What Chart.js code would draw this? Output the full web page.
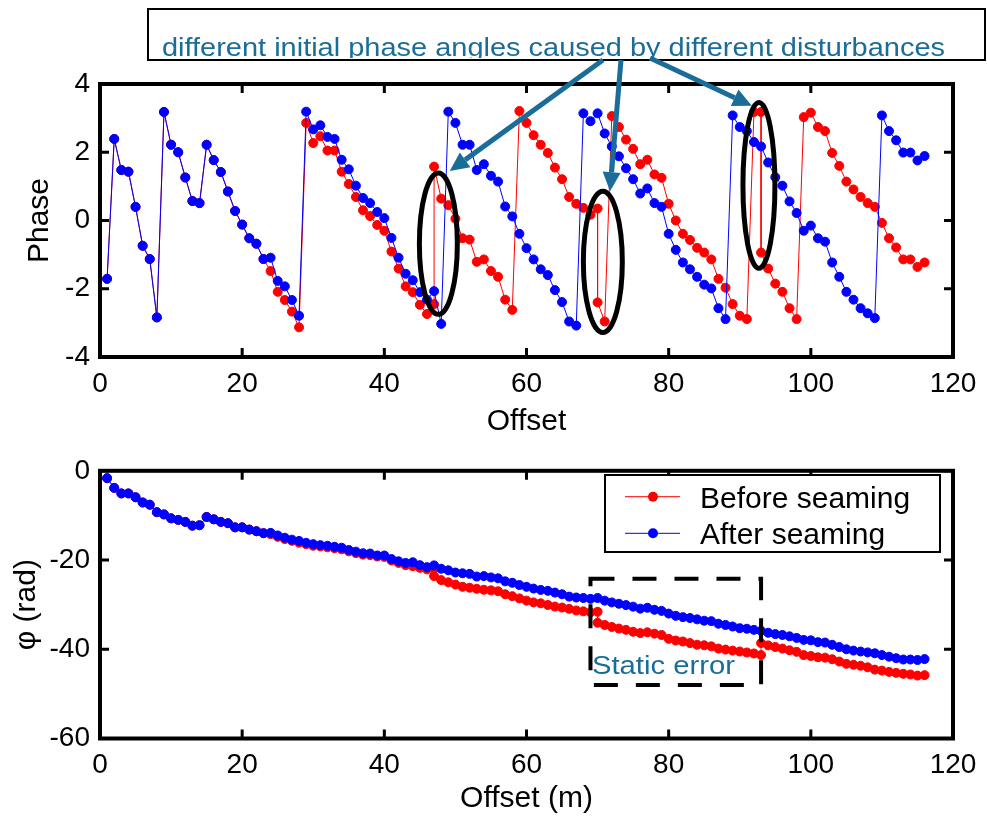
<!DOCTYPE html>
<html>
<head>
<meta charset="utf-8">
<script src="https://cdn.jsdelivr.net/npm/chart.js@4.4.0/dist/chart.umd.min.js"></script>
<style>
  body { margin: 0; background: #fff; }
  #wrap { position: relative; width: 987px; height: 824px; }
  canvas { position: absolute; left: 0; }
</style>
</head>
<body>
<div id="wrap">
  <canvas id="phaseChart" width="987" height="444" style="top:0px"></canvas>
  <canvas id="unwrapChart" width="987" height="380" style="top:444px"></canvas>
</div>
<script>
// offsets (x). "before" has a repeated offset at each seam (47, 70, 93)
var offsetsAfter = [1,2,3,4,5,6,7,8,9,10,11,12,13,14,15,16,17,18,19,20,21,22,23,24,25,26,27,28,29,30,
  31,32,33,34,35,36,37,38,39,40,41,42,43,44,45,46,47,48,49,50,51,52,53,54,55,56,57,58,59,60,
  61,62,63,64,65,66,67,68,69,70,71,72,73,74,75,76,77,78,79,80,81,82,83,84,85,86,87,88,89,90,
  91,92,93,94,95,96,97,98,99,100,101,102,103,104,105,106,107,108,109,110,111,112,113,114,115,116];
var offsetsBefore = [1,2,3,4,5,6,7,8,9,10,11,12,13,14,15,16,17,18,19,20,21,22,23,24,25,26,27,28,29,30,
  31,32,33,34,35,36,37,38,39,40,41,42,43,44,45,46,47,47,48,49,50,51,52,53,54,55,56,57,58,59,60,
  61,62,63,64,65,66,67,68,69,70,70,71,72,73,74,75,76,77,78,79,80,81,82,83,84,85,86,87,88,89,90,
  91,92,93,93,94,95,96,97,98,99,100,101,102,103,104,105,106,107,108,109,110,111,112,113,114,115,116];

// top panel: wrapped phase
var phaseAfter = [-1.71,2.39,1.48,1.43,0.40,-0.74,-1.13,-2.84,3.18,2.22,
  2.00,1.26,0.57,0.51,2.22,1.77,1.42,0.85,0.28,-0.12,
  -0.52,-0.68,-1.13,-1.09,-1.77,-1.93,-2.33,-2.79,3.19,2.67,
  2.79,2.45,2.39,1.78,1.50,1.02,0.66,0.51,0.25,0.07,
  -0.51,-1.09,-1.56,-1.75,-2.10,-2.32,-2.07,-3.03,3.19,2.86,
  2.22,2.22,1.48,1.65,1.31,1.14,0.41,0.12,-0.39,-0.81,
  -1.14,-1.43,-1.60,-2.04,-2.39,-2.96,-3.08,3.14,2.91,3.14,
  2.55,2.17,1.88,1.53,1.21,0.79,0.94,0.51,0.40,-0.39,
  -0.86,-1.23,-1.43,-1.65,-1.88,-1.99,-2.57,-2.89,3.08,2.74,
  2.62,2.30,2.17,1.70,1.27,1.02,0.56,0.22,-0.30,-0.15,
  -0.52,-0.62,-1.23,-1.65,-2.09,-2.32,-2.57,-2.72,-2.86,3.08,
  2.62,2.35,1.99,1.99,1.76,1.89];
var phaseBefore = [-1.71,2.39,1.48,1.43,0.40,-0.74,-1.13,-2.84,3.18,2.22,
  2.00,1.26,0.57,0.51,2.22,1.77,1.42,0.85,0.28,-0.12,-0.52,-0.68,-1.13,
  -1.48,-2.09,-2.33,-2.67,-3.13,2.86,2.27,2.47,2.05,2.05,1.43,1.07,0.69,0.30,0.13,-0.13,-0.30,-0.91,-1.41,-1.93,-2.10,-2.47,-2.74,
  -2.45,1.58,
  0.64,0.45,0.05,-0.52,-0.56,-1.21,-1.14,-1.48,-1.65,-2.32,-2.62,3.21,2.86,2.50,2.22,1.98,1.55,1.21,0.69,0.49,0.37,0.17,0.35,
  -2.40,
  -2.96,3.06,2.74,2.37,2.10,1.65,1.78,1.35,1.25,0.49,0.00,-0.39,-0.57,-0.80,-0.94,-1.14,-1.71,-1.97,-2.45,-2.79,-2.89,3.18,3.18,
  -0.94,
  -1.41,-1.85,-2.09,-2.57,-2.89,3.03,3.16,2.74,2.62,1.98,1.60,1.14,0.91,0.69,0.51,0.40,-0.07,-0.52,-0.79,-1.14,-1.14,-1.36,-1.23];

// bottom panel: unwrapped phase (rad)
var unwrapAfter = [-1.65,-3.83,-5.07,-5.07,-5.93,-7.10,-7.60,-9.27,-9.77,-10.65,
  -11.00,-11.45,-12.30,-12.20,-10.35,-10.87,-11.45,-11.74,-12.67,-12.67,
  -13.18,-13.54,-13.98,-13.91,-14.49,-15.00,-15.43,-15.72,-16.15,-16.44,
  -16.66,-16.81,-17.03,-17.24,-17.75,-18.12,-18.48,-18.55,-18.98,-18.98,
  -19.78,-20.28,-20.65,-20.50,-21.15,-21.59,-21.20,-21.95,-22.30,-22.80,
  -22.97,-23.10,-23.70,-23.60,-23.90,-24.10,-24.78,-25.10,-25.60,-26.00,
  -26.40,-26.70,-26.90,-27.30,-27.67,-28.20,-28.40,-28.50,-28.70,-28.50,
  -29.10,-29.50,-29.80,-30.10,-30.45,-30.90,-30.70,-31.15,-31.40,-32.00,
  -32.50,-32.80,-33.00,-33.30,-33.60,-33.70,-34.27,-34.56,-34.90,-35.28,
  -35.40,-35.65,-35.87,-36.30,-36.60,-36.80,-37.10,-37.46,-37.90,-38.00,
  -38.40,-38.50,-39.00,-39.50,-40.00,-40.30,-40.50,-40.70,-40.90,-41.30,
  -41.66,-42.00,-42.30,-42.30,-42.40,-42.20];
var unwrapBefore = [-1.65,-3.83,-5.07,-5.07,-5.93,-7.10,-7.60,-9.27,-9.77,-10.65,
  -11.00,-11.45,-12.30,-12.20,-10.35,-10.87,-11.45,-11.74,-12.67,-12.67,-13.18,-13.54,-13.98,
  -14.20,-14.80,-15.30,-15.70,-16.10,-16.45,-16.80,-16.95,-17.15,-17.35,-17.60,-18.05,-18.45,-18.80,-18.90,-19.20,-19.30,-20.10,-20.65,-21.15,-21.37,-21.74,-22.10,
  -21.80,-23.60,
  -24.50,-25.00,-25.50,-26.00,-26.20,-26.45,-26.66,-26.80,-27.00,-27.67,-28.10,-28.60,-29.10,-29.50,-29.70,-30.07,-30.43,-30.65,-30.94,-31.30,-31.50,-31.70,-31.60,
  -34.05,
  -34.55,-35.00,-35.36,-35.65,-36.08,-36.37,-36.20,-36.50,-36.80,-37.67,-38.04,-38.26,-38.62,-38.98,-39.10,-39.35,-39.85,-40.07,-40.30,-40.50,-40.72,-40.94,-41.30,
  -38.62,
  -39.13,-39.49,-39.85,-40.22,-40.58,-41.30,-41.50,-41.80,-41.88,-42.24,-42.75,-43.26,-43.48,-43.70,-44.05,-44.56,-44.78,-45.07,-45.29,-45.50,-45.65,-45.90,-45.80];

var xTicks = [0, 20, 40, 60, 80, 100, 120];
var seriesNames = ['Before seaming', 'After seaming'];

var FONT = "'Liberation Sans', Arial, Helvetica, sans-serif";
var TEAL = '#1a6d98';
var RED = '#ff0000';
var BLUE = '#0000ff';

function xy(xs, ys) {
  return xs.map(function(x, i) { return { x: x, y: ys[i] }; });
}

function dataset(label, xs, ys, color, order) {
  return {
    label: label,
    data: xy(xs, ys),
    borderColor: color,
    backgroundColor: color,
    borderWidth: 1,
    pointRadius: 4.5,
    pointBorderWidth: 1,
    pointHoverRadius: 4.5,
    tension: 0,
    order: order
  };
}

function scales(yMin, yMax, yStep, xTitle, yTitle, xTitlePad, yTitlePad, xHeight) {
  return {
    x: {
      type: 'linear', min: xTicks[0], max: xTicks[xTicks.length - 1],
      afterBuildTicks: function(s) { s.ticks = xTicks.map(function(v) { return { value: v }; }); },
      ticks: { color: '#000', font: { family: FONT, size: 28 }, padding: 10, maxRotation: 0 },
      grid: { display: false, drawTicks: false },
      border: { display: false },
      title: { display: true, text: xTitle, color: '#000', font: { family: FONT, size: 30 }, padding: { top: 0, bottom: xTitlePad } },
      afterFit: function(s) { s.height = xHeight; }
    },
    y: {
      min: yMin, max: yMax,
      ticks: { stepSize: yStep, color: '#000', font: { family: FONT, size: 28 }, padding: 10 },
      grid: { display: false, drawTicks: false },
      border: { display: false },
      title: { display: true, text: yTitle, color: '#000', font: { family: FONT, size: 30 }, padding: { top: yTitlePad, bottom: 0 } },
      afterFit: function(s) { s.width = 100; }
    }
  };
}

// matlab-like box with inward ticks on all four sides
var boxAxes = {
  id: 'boxAxes',
  afterDatasetsDraw: function(chart) {
    var ctx = chart.ctx, a = chart.chartArea, xs = chart.scales.x, ys = chart.scales.y;
    ctx.save();
    ctx.strokeStyle = '#000';
    ctx.lineWidth = 3;
    ctx.beginPath();
    xs.ticks.forEach(function(t) {
      var p = xs.getPixelForValue(t.value);
      ctx.moveTo(p, a.bottom); ctx.lineTo(p, a.bottom - 9);
      ctx.moveTo(p, a.top); ctx.lineTo(p, a.top + 9);
    });
    ys.ticks.forEach(function(t) {
      var p = ys.getPixelForValue(t.value);
      ctx.moveTo(a.left, p); ctx.lineTo(a.left + 9, p);
      ctx.moveTo(a.right, p); ctx.lineTo(a.right - 9, p);
    });
    ctx.stroke();
    ctx.lineWidth = 4;
    ctx.strokeRect(a.left, a.top, a.right - a.left, a.bottom - a.top);
    ctx.restore();
  }
};

function fitText(ctx, text, x, y, width, font) {
  ctx.font = font;
  var w = ctx.measureText(text).width;
  ctx.save();
  ctx.translate(x, y);
  ctx.scale(width / w, 1);
  ctx.fillText(text, 0, 0);
  ctx.restore();
}

function arrow(ctx, x0, y0, x1, y1) {
  var ang = Math.atan2(y1 - y0, x1 - x0), head = 19, half = 9;
  var bx = x1 - head * Math.cos(ang), by = y1 - head * Math.sin(ang);
  ctx.beginPath();
  ctx.moveTo(x0, y0); ctx.lineTo(bx, by);
  ctx.stroke();
  ctx.beginPath();
  ctx.moveTo(x1, y1);
  ctx.lineTo(bx + half * Math.sin(ang), by - half * Math.cos(ang));
  ctx.lineTo(bx - half * Math.sin(ang), by + half * Math.cos(ang));
  ctx.closePath();
  ctx.fill();
}

// top panel notes: ellipses round the seams, text box and arrows
var phaseNotes = {
  id: 'phaseNotes',
  afterDraw: function(chart) {
    var ctx = chart.ctx, xs = chart.scales.x, ys = chart.scales.y;
    var rings = [
      { x: 47.6, y: -0.68, rx: 2.67, ry: 2.07 },
      { x: 70.74, y: -1.21, rx: 2.74, ry: 2.07 },
      { x: 92.7, y: 1.03, rx: 2.25, ry: 2.43 }
    ];
    ctx.save();
    ctx.strokeStyle = '#000';
    ctx.lineWidth = 5;
    rings.forEach(function(r) {
      var cx = xs.getPixelForValue(r.x), cy = ys.getPixelForValue(r.y);
      ctx.beginPath();
      ctx.ellipse(cx, cy, xs.getPixelForValue(r.x + r.rx) - cx, cy - ys.getPixelForValue(r.y + r.ry), 0, 0, Math.PI * 2);
      ctx.stroke();
    });

    // text box
    ctx.lineWidth = 2;
    ctx.strokeRect(148, 9, 837, 51);
    ctx.save();
    ctx.beginPath();
    ctx.rect(149, 10, 835, 48);
    ctx.clip();
    ctx.fillStyle = TEAL;
    ctx.textBaseline = 'alphabetic';
    fitText(ctx, 'different initial phase angles caused by different disturbances', 162, 56, 783, '25px ' + FONT);
    ctx.restore();

    // arrows
    ctx.strokeStyle = TEAL;
    ctx.fillStyle = TEAL;
    ctx.lineWidth = 5;
    var tips = [
      { from: [603, 60], x: 49.2, y: 1.45 },
      { from: [621, 60], x: 71.75, y: 0.86 },
      { from: [650, 58], x: 91.7, y: 3.36 }
    ];
    tips.forEach(function(t) {
      arrow(ctx, t.from[0], t.from[1], xs.getPixelForValue(t.x), ys.getPixelForValue(t.y));
    });
    ctx.restore();
  }
};

// bottom panel notes: legend, dashed box and label
var unwrapNotes = {
  id: 'unwrapNotes',
  afterDraw: function(chart) {
    var ctx = chart.ctx, xs = chart.scales.x, ys = chart.scales.y;
    ctx.save();
    // dashed box
    var x0 = xs.getPixelForValue(69.0), x1 = xs.getPixelForValue(93.0);
    var y0 = ys.getPixelForValue(-24.2), y1 = ys.getPixelForValue(-48.0);
    ctx.strokeStyle = '#000';
    ctx.lineWidth = 4;
    ctx.setLineDash([24, 18]);
    ctx.strokeRect(x0, y0, x1 - x0, y1 - y0);
    ctx.setLineDash([]);

    ctx.fillStyle = TEAL;
    ctx.textBaseline = 'alphabetic';
    fitText(ctx, 'Static error', xs.getPixelForValue(69.2), ys.getPixelForValue(-45.6), 143, '26px ' + FONT);

    // legend
    ctx.fillStyle = '#fff';
    ctx.fillRect(605, 31, 335, 77);
    ctx.strokeStyle = '#000';
    ctx.lineWidth = 2;
    ctx.strokeRect(605, 31, 335, 77);
    var rows = [{ y: 52.7, c: RED, t: seriesNames[0] }, { y: 89.3, c: BLUE, t: seriesNames[1] }];
    rows.forEach(function(r) {
      ctx.strokeStyle = r.c;
      ctx.lineWidth = 1;
      ctx.beginPath(); ctx.moveTo(625, r.y); ctx.lineTo(680, r.y); ctx.stroke();
      ctx.fillStyle = r.c;
      ctx.beginPath(); ctx.arc(653, r.y, 5, 0, Math.PI * 2); ctx.fill();
      ctx.fillStyle = '#000';
      ctx.font = '30px ' + FONT;
      ctx.fillText(r.t, 700, r.y + 11);
    });
    ctx.restore();
  }
};

Chart.defaults.font.family = FONT;

new Chart(document.getElementById('phaseChart'), {
  type: 'line',
  data: {
    datasets: [
      dataset(seriesNames[0], offsetsBefore, phaseBefore, RED, 1),
      dataset(seriesNames[1], offsetsAfter, phaseAfter, BLUE, 0)
    ]
  },
  options: {
    responsive: false,
    animation: false,
    layout: { padding: { top: 84, right: 34, left: 0, bottom: 0 } },
    plugins: { legend: { display: false }, tooltip: { enabled: false } },
    scales: scales(-4, 4, 2, 'Offset', 'Phase', 4, 22, 87)
  },
  plugins: [boxAxes, phaseNotes]
});

new Chart(document.getElementById('unwrapChart'), {
  type: 'line',
  data: {
    datasets: [
      dataset(seriesNames[0], offsetsBefore, unwrapBefore, RED, 1),
      dataset(seriesNames[1], offsetsAfter, unwrapAfter, BLUE, 0)
    ]
  },
  options: {
    responsive: false,
    animation: false,
    layout: { padding: { top: 17.5, right: 34, left: 0, bottom: 0 } },
    plugins: { legend: { display: false }, tooltip: { enabled: false } },
    scales: scales(-60, 0, 20, 'Offset (m)', '\u03c6 (rad)', 7, 9, 85.5)
  },
  plugins: [boxAxes, unwrapNotes]
});
</script>
</body>
</html>
